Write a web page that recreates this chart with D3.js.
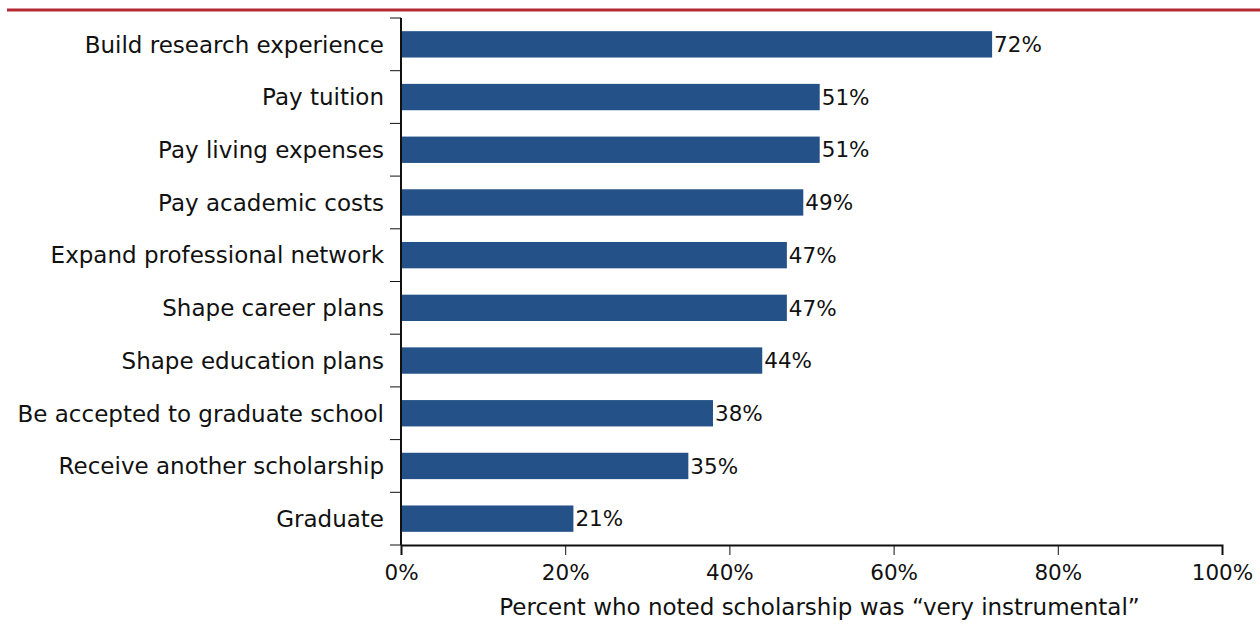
<!DOCTYPE html>
<html>
<head>
<meta charset="utf-8">
<script src="https://cdn.jsdelivr.net/npm/d3@7"></script>
<style>
  html, body { margin: 0; padding: 0; background: #fff; }
  svg { display: block; font-family: "DejaVu Sans", sans-serif; }
</style>
</head>
<body>
<svg id="chart" width="1260" height="635"></svg>
<script>
// Reasons scholarship was "very instrumental"
const categories = [
  "Build research experience",
  "Pay tuition",
  "Pay living expenses",
  "Pay academic costs",
  "Expand professional network",
  "Shape career plans",
  "Shape education plans",
  "Be accepted to graduate school",
  "Receive another scholarship",
  "Graduate"
];
const values = [72, 51, 51, 49, 47, 47, 44, 38, 35, 21];
const xTicks = [0, 20, 40, 60, 80, 100];
const xTitle = "Percent who noted scholarship was \u201cvery instrumental\u201d";

const svg = d3.select("#chart");
const plot = { left: 401, right: 1222, top: 18, bottom: 545 };
const font = "'DejaVu Sans', sans-serif";

// Top rule
svg.append("line")
  .attr("x1", 7).attr("x2", 1260).attr("y1", 10).attr("y2", 10)
  .attr("stroke", "#b32a33").attr("stroke-width", 3);

const x = d3.scaleLinear().domain([0, 100]).range([plot.left, plot.right]);
const y = d3.scaleBand().domain(categories).range([plot.top, plot.bottom])
  .paddingInner(0.5).paddingOuter(0.25);

const data = categories.map((c, i) => ({ cat: c, val: values[i] }));

// Bars
svg.append("g").selectAll("rect").data(data).join("rect")
  .attr("x", x(0))
  .attr("y", d => y(d.cat))
  .attr("width", d => x(d.val) - x(0))
  .attr("height", y.bandwidth())
  .attr("fill", "#245288");

// Value labels
svg.append("g").selectAll("text").data(data).join("text")
  .attr("x", d => x(d.val) + 2)
  .attr("y", d => y(d.cat) + y.bandwidth() / 2)
  .attr("dy", "0.36em")
  .attr("font-size", 21.5)
  .attr("fill", "#111")
  .text(d => d.val + "%");

// Category axis with ticks on band boundaries
const yAxis = svg.append("g");
yAxis.append("line")
  .attr("x1", plot.left).attr("x2", plot.left).attr("y1", plot.top).attr("y2", plot.bottom)
  .attr("stroke", "#111").attr("stroke-width", 2);
const boundaries = d3.range(categories.length + 1).map(i => plot.top + i * y.step());
yAxis.selectAll("line.tick").data(boundaries).join("line")
  .attr("class", "tick")
  .attr("x1", plot.left - 11).attr("x2", plot.left)
  .attr("y1", d => d).attr("y2", d => d)
  .attr("stroke", "#111").attr("stroke-width", 1);
yAxis.selectAll("text").data(categories).join("text")
  .attr("x", plot.left - 17)
  .attr("y", d => y(d) + y.bandwidth() / 2)
  .attr("dy", "0.36em")
  .attr("text-anchor", "end")
  .attr("font-size", 23)
  .attr("fill", "#111")
  .text(d => d);

// Value axis
const xAxis = svg.append("g")
  .attr("transform", `translate(0,${plot.bottom})`)
  .call(d3.axisBottom(x).tickValues(xTicks).tickFormat(d => d + "%").tickSize(10).tickPadding(10));
xAxis.select(".domain").attr("stroke", "#111").attr("stroke-width", 2);
xAxis.selectAll(".tick line").attr("stroke", "#111");
xAxis.selectAll(".tick text").attr("font-size", 21.5).attr("fill", "#111")
  .attr("font-family", font);

svg.append("text")
  .attr("x", (plot.left + plot.right) / 2 + 8)
  .attr("y", 615)
  .attr("text-anchor", "middle")
  .attr("font-size", 23)
  .attr("fill", "#111")
  .text(xTitle);
</script>
</body>
</html>
